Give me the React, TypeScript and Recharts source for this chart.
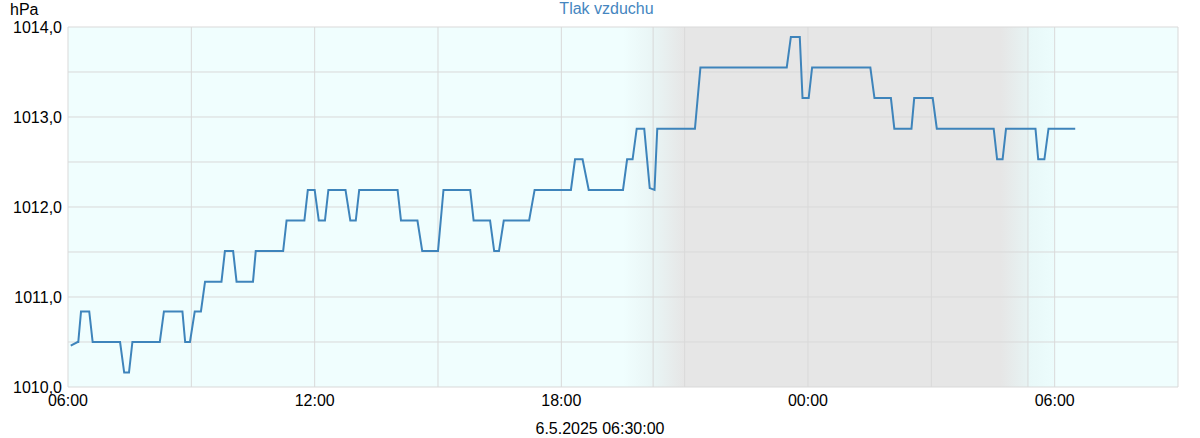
import React from 'react';
import { LineChart, Line, XAxis, YAxis, CartesianGrid, ReferenceLine } from 'recharts';

// minutes elapsed since 5.5.2025 06:00
const minutesFromStart = [
  4, 14, 15, 19, 31, 36, 76, 82, 89, 94, 134, 140, 167, 171, 178, 185, 194, 200, 224, 229,
  241, 246, 270, 274, 314, 319, 345, 350, 360, 366, 375, 380, 405, 412, 420, 425, 481, 486, 510, 517,
  540, 548, 587, 592, 616, 622, 629, 636, 673, 681, 734, 740, 751, 760, 810, 816, 824, 830, 841, 849,
  856, 860, 915, 923, 1049, 1055, 1068, 1072, 1081, 1086, 1171, 1177, 1201, 1206, 1231, 1235, 1262, 1268, 1351, 1356,
  1364, 1369, 1412, 1416, 1425, 1431, 1470,
];

// air pressure, hPa
const pressureHpa = [
  1010.46, 1010.5, 1010.5, 1010.84, 1010.84, 1010.5, 1010.5, 1010.16, 1010.16, 1010.5, 1010.5, 1010.84, 1010.84, 1010.5, 1010.5, 1010.84, 1010.84, 1011.17, 1011.17, 1011.51,
  1011.51, 1011.17, 1011.17, 1011.51, 1011.51, 1011.85, 1011.85, 1012.19, 1012.19, 1011.85, 1011.85, 1012.19, 1012.19, 1011.85, 1011.85, 1012.19, 1012.19, 1011.85, 1011.85, 1011.51,
  1011.51, 1012.19, 1012.19, 1011.85, 1011.85, 1011.51, 1011.51, 1011.85, 1011.85, 1012.19, 1012.19, 1012.53, 1012.53, 1012.19, 1012.19, 1012.53, 1012.53, 1012.87, 1012.87, 1012.21,
  1012.19, 1012.87, 1012.87, 1013.55, 1013.55, 1013.89, 1013.89, 1013.21, 1013.21, 1013.55, 1013.55, 1013.21, 1013.21, 1012.87, 1012.87, 1013.21, 1013.21, 1012.87, 1012.87, 1012.53,
  1012.53, 1012.87, 1012.87, 1012.53, 1012.53, 1012.87, 1012.87,
];

const xTicks = [0, 180, 360, 540, 720, 900, 1080, 1260, 1440, 1620];
const xTickLabels: Record<number, string> = { 0: '06:00', 360: '12:00', 720: '18:00', 1080: '00:00', 1440: '06:00' };
const yTicks = [1010, 1010.5, 1011, 1011.5, 1012, 1012.5, 1013, 1013.5, 1014];

const sunsetMinutes = 854;
const sunriseMinutes = 1401;

const title = 'Tlak vzduchu';
const unit = 'hPa';
const footer = '6.5.2025 06:30:00';

const data = minutesFromStart.map((m, i) => ({ t: m, p: pressureHpa[i] }));

const FONT = '"Liberation Sans", Arial, sans-serif';
const GRID = '#d9d9d9';

export default function App() {
  return (
    <div style={{ position: 'absolute', left: 0, top: 0, width: 1200, height: 438, background: '#fff', fontFamily: FONT }}>
      <svg width={0} height={0} style={{ position: 'absolute' }}>
        <defs>
          <linearGradient id="dayNight" x1="0" y1="0" x2="1" y2="0">
            <stop offset="0" stopColor="#f0fefe" />
            <stop offset="0.5" stopColor="#f0fefe" />
            <stop offset="0.527" stopColor="#e9f5f5" />
            <stop offset="0.555" stopColor="#e6e6e6" />
            <stop offset="0.84" stopColor="#e6e6e6" />
            <stop offset="0.865" stopColor="#e7f3f3" />
            <stop offset="0.8651" stopColor="#e8f8f8" />
            <stop offset="0.888" stopColor="#ecfcfc" />
            <stop offset="0.889" stopColor="#f0fefe" />
            <stop offset="1" stopColor="#f0fefe" />
          </linearGradient>
        </defs>
      </svg>
      <div style={{ position: 'absolute', left: 0, width: 1213, top: 0, textAlign: 'center', fontSize: 16, color: '#4586c0', lineHeight: '17px' }}>{title}</div>
      <div style={{ position: 'absolute', left: 10, top: 1, fontSize: 16, color: '#000', lineHeight: '17px' }}>{unit}</div>
      <div style={{ position: 'absolute', left: 0, width: 1200, top: 420, textAlign: 'center', fontSize: 16, color: '#000', lineHeight: '17px' }}>{footer}</div>
      <LineChart width={1200} height={438} data={data} margin={{ top: 27, right: 22, bottom: 27, left: 0 }}>
        <CartesianGrid stroke={GRID} fill="url(#dayNight)" fillOpacity={1} />
        <XAxis
          dataKey="t"
          type="number"
          domain={[0, 1620]}
          ticks={xTicks}
          interval={0}
          tickFormatter={(v: number) => xTickLabels[v] ?? ''}
          tickLine={false}
          axisLine={false}
          height={24}
          tick={{ fontSize: 16, fill: '#000', fontFamily: FONT }}
        />
        <YAxis
          type="number"
          domain={[1010, 1014]}
          ticks={yTicks}
          interval={0}
          tickFormatter={(v: number) => (v % 1 === 0 ? v.toFixed(1).replace('.', ',') : '')}
          tickLine={false}
          axisLine={false}
          width={68}
          tickMargin={0}
          tick={{ fontSize: 16, fill: '#000', fontFamily: FONT }}
        />
        <ReferenceLine x={sunsetMinutes} stroke={GRID} />
        <ReferenceLine x={sunriseMinutes} stroke={GRID} />
        <Line type="linear" dataKey="p" stroke="#3e84bb" strokeWidth={2} dot={false} isAnimationActive={false} />
      </LineChart>
    </div>
  );
}
